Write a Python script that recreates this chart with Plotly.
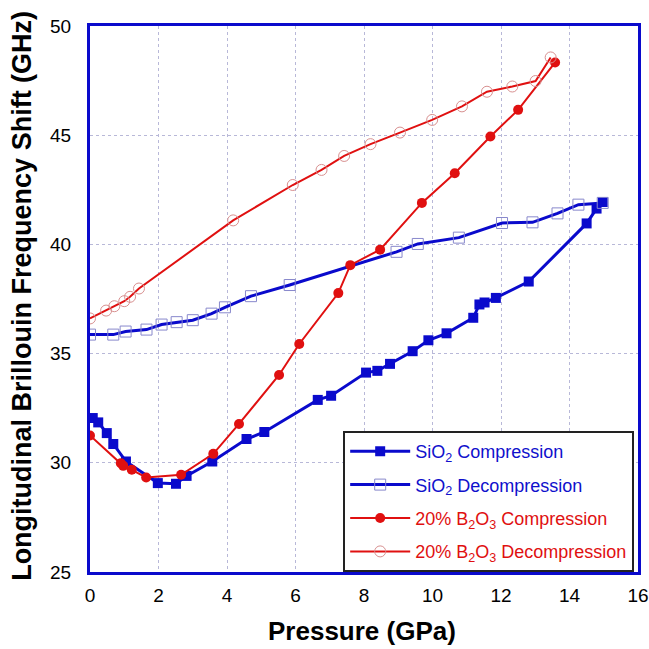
import plotly.graph_objects as go

# SiO2 compression
sio2_c_p = [0.08, 0.24, 0.49, 0.68, 1.05, 1.98, 2.51, 2.82, 3.57, 4.57, 5.09, 6.65, 7.04, 8.06, 8.39, 8.76,
            9.42, 9.88, 10.41, 11.19, 11.37, 11.52, 11.85, 12.81, 14.50, 14.79, 14.97]
sio2_c_f = [32.05, 31.85, 31.36, 30.86, 30.06, 29.07, 29.04, 29.40, 30.06, 31.09, 31.41, 32.88, 33.07, 34.13, 34.21, 34.53,
            35.11, 35.61, 35.93, 36.64, 37.25, 37.34, 37.55, 38.30, 40.96, 41.64, 41.94]

# SiO2 decompression
sio2_d_p = [14.97, 14.26, 13.65, 12.92, 12.03, 10.77, 9.57, 8.95, 5.83, 4.70, 3.94, 3.55, 3.00, 2.53, 2.09, 1.65, 1.04, 0.68, 0.0]
sio2_d_f = [41.90, 41.82, 41.42, 41.01, 40.98, 40.31, 40.02, 39.66, 38.14, 37.63, 37.12, 36.83, 36.53, 36.44, 36.33, 36.10, 36.01, 35.87, 35.87]

# 20% B2O3 compression
b2o3_c_p = [0.0, 0.90, 0.97, 1.22, 1.64, 2.66, 3.60, 4.35, 5.52, 6.11, 7.25, 7.60, 8.47, 9.69, 10.65, 11.69, 12.50, 13.58]
b2o3_c_f = [31.25, 29.98, 29.86, 29.68, 29.33, 29.45, 30.41, 31.78, 34.02, 35.44, 37.77, 39.05, 39.76, 41.90, 43.26, 44.94, 46.16, 48.33]

# 20% B2O3 decompression
b2o3_d_p = [13.45, 13.01, 12.33, 11.59, 10.86, 9.99, 9.05, 8.19, 7.42, 6.76, 5.92, 4.18, 1.43, 1.17, 1.00, 0.71, 0.47, 0.0]
b2o3_d_f = [48.56, 47.48, 47.23, 46.99, 46.32, 45.70, 45.12, 44.59, 44.05, 43.41, 42.72, 41.10, 37.98, 37.60, 37.40, 37.17, 36.97, 36.61]

x_title = "Pressure (GPa)"
y_title = "Longitudinal Brillouin Frequency Shift (GHz)"

BLUE = "#0a0acc"
RED = "#e01010"
FONT = "Liberation Sans, Arial, sans-serif"

fig = go.Figure()
fig.add_trace(go.Scatter(
    x=sio2_c_p, y=sio2_c_f, mode="lines+markers", legendgroup="a",
    name='<span style="color:#1010cc">SiO<sub>2</sub> Compression</span>',
    line=dict(color=BLUE, width=3),
    marker=dict(symbol="square", size=10, color=BLUE, line=dict(width=0))))
fig.add_trace(go.Scatter(
    x=sio2_d_p, y=sio2_d_f, mode="lines+markers", legendgroup="b",
    name='<span style="color:#1010cc">SiO<sub>2</sub> Decompression</span>',
    line=dict(color=BLUE, width=3),
    marker=dict(symbol="square-open", size=11, color="#8888cc", line=dict(width=1))))
fig.add_trace(go.Scatter(
    x=b2o3_c_p, y=b2o3_c_f, mode="lines+markers", legendgroup="c",
    name='<span style="color:#e01010">20% B<sub>2</sub>O<sub>3</sub> Compression</span>',
    line=dict(color=RED, width=2),
    marker=dict(symbol="circle", size=10, color=RED, line=dict(width=0))))
fig.add_trace(go.Scatter(
    x=b2o3_d_p, y=b2o3_d_f, mode="lines+markers", legendgroup="d",
    name='<span style="color:#e01010">20% B<sub>2</sub>O<sub>3</sub> Decompression</span>',
    line=dict(color=RED, width=2),
    marker=dict(symbol="circle-open", size=11, color="#d89090", line=dict(width=1))))

axis_common = dict(
    showline=True, linecolor=BLUE, linewidth=3, mirror=True,
    showgrid=True, gridcolor="#b8b8d8", griddash="dot", gridwidth=1,
    zeroline=False, ticks="", automargin=False,
    tickfont=dict(family=FONT, size=19, color="black"),
)

fig.update_xaxes(range=[0, 16], dtick=2, tick0=0, ticklabelstandoff=4, **axis_common)
fig.update_yaxes(range=[25, 50], dtick=5, tick0=25, ticklabelstandoff=12, **axis_common)

fig.add_annotation(text="<b>" + x_title + "</b>", xref="paper", yref="paper",
                   x=0.497, y=-0.108, xanchor="center", yanchor="middle", showarrow=False,
                   font=dict(family=FONT, size=26, color="black"))
fig.add_annotation(text="<b>" + y_title + "</b>", xref="paper", yref="paper",
                   x=-0.123, y=0.505, xanchor="center", yanchor="middle", showarrow=False,
                   textangle=-90, font=dict(family=FONT, size=27, color="black"))

fig.update_layout(
    width=649, height=649,
    margin=dict(l=90, r=11, t=26, b=77, autoexpand=False),
    plot_bgcolor="white", paper_bgcolor="white",
    font=dict(family=FONT, size=18, color="black"),
    legend=dict(x=0.462, y=0, xanchor="left", yanchor="bottom",
                bgcolor="white", bordercolor="#222222", borderwidth=2,
                font=dict(family=FONT, size=18), itemwidth=60, tracegroupgap=7),
    showlegend=True,
)

fig.write_html("out.html")
